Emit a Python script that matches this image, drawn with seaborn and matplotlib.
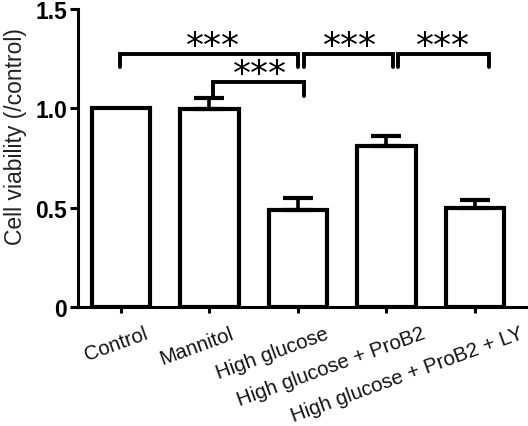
import numpy as np
import matplotlib
matplotlib.use('Agg')
import matplotlib.pyplot as plt
import matplotlib.transforms as mtransforms
import seaborn as sns

# data
groups = ['Control', 'Mannitol', 'High glucose', 'High glucose + ProB2', 'High glucose + ProB2 + LY']
means = [1.0, 0.995, 0.49, 0.81, 0.50]
errs = [0.0, 0.055, 0.057, 0.05, 0.04]
y_ticks = [0, 0.5, 1.0, 1.5]
y_ticklabels = ['0', '0.5', '1.0', '1.5']

# significance brackets: (left x, right x, line y, left tip y, right tip y, star x, label)
brackets = [
    (-0.01, 1.995, 1.273, 1.208, 1.208, 1.04, '***'),
    (2.065, 3.07, 1.273, 1.208, 1.208, 2.59, '***'),
    (3.13, 4.16, 1.273, 1.208, 1.208, 3.64, '***'),
    (1.04, 2.065, 1.132, 1.050, 1.062, 1.57, '***'),
]

# horizontal shift (px) of each rotated tick label's right end from its tick
label_dx = [28, 25, 32, 40, 50]

sns.set_style('ticks')
plt.rcParams['font.family'] = ['Liberation Sans', 'DejaVu Sans']

fig = plt.figure(figsize=(5.28, 4.27), dpi=100)
ax = fig.add_axes([78 / 528, 119 / 427, 450 / 528, 298 / 427])

sns.barplot(x=groups, y=means, ax=ax, color='white', saturation=1,
            edgecolor='black', linewidth=3, width=0.66, errorbar=None)

# upper-only error bars like GraphPad
for i, (m, e) in enumerate(zip(means, errs)):
    if e > 0:
        ax.errorbar(i, m, yerr=[[0], [e]], fmt='none', ecolor='black',
                    elinewidth=2.6, capsize=11, capthick=3, zorder=1)

for x1, x2, y, t1, t2, sx, lab in brackets:
    ax.plot([x1, x1, x2, x2], [t1, y, y, t2], color='black', lw=2.8,
            solid_joinstyle='miter', clip_on=False, zorder=5)
    ax.text(sx, y, lab, ha='center', va='baseline', fontsize=26,
            family='DejaVu Sans', color='black',
            transform=ax.transData + mtransforms.ScaledTranslation(0, -2 / 100, fig.dpi_scale_trans))

ax.set_xlim(-0.486, 4.6)
ax.set_ylim(0, 1.5)
ax.set_yticks(y_ticks)
ax.set_yticklabels(y_ticklabels, fontsize=16.5, fontweight='bold')
ax.set_ylabel('Cell viability (/control)', fontsize=16.5, color='#222222')
ax.yaxis.set_label_coords(-0.113, 0.574)
ax.set_xlabel('')

for side in ['top', 'right']:
    ax.spines[side].set_visible(False)
for side in ['left', 'bottom']:
    ax.spines[side].set_linewidth(2.2)
    ax.spines[side].set_color('black')

ax.tick_params(axis='y', length=6, width=2.2, pad=2, colors='black')
ax.tick_params(axis='x', length=4, width=2.2, pad=18, colors='black')

for lab, dx in zip(ax.get_xticklabels(), label_dx):
    lab.set_rotation(20)
    lab.set_ha('right')
    lab.set_va('baseline')
    lab.set_rotation_mode('anchor')
    lab.set_fontsize(14.8)
    lab.set_color('#111111')
    lab.set_transform(lab.get_transform() + mtransforms.ScaledTranslation(dx / 100, 0, fig.dpi_scale_trans))

fig.savefig('out.png', dpi=100)
